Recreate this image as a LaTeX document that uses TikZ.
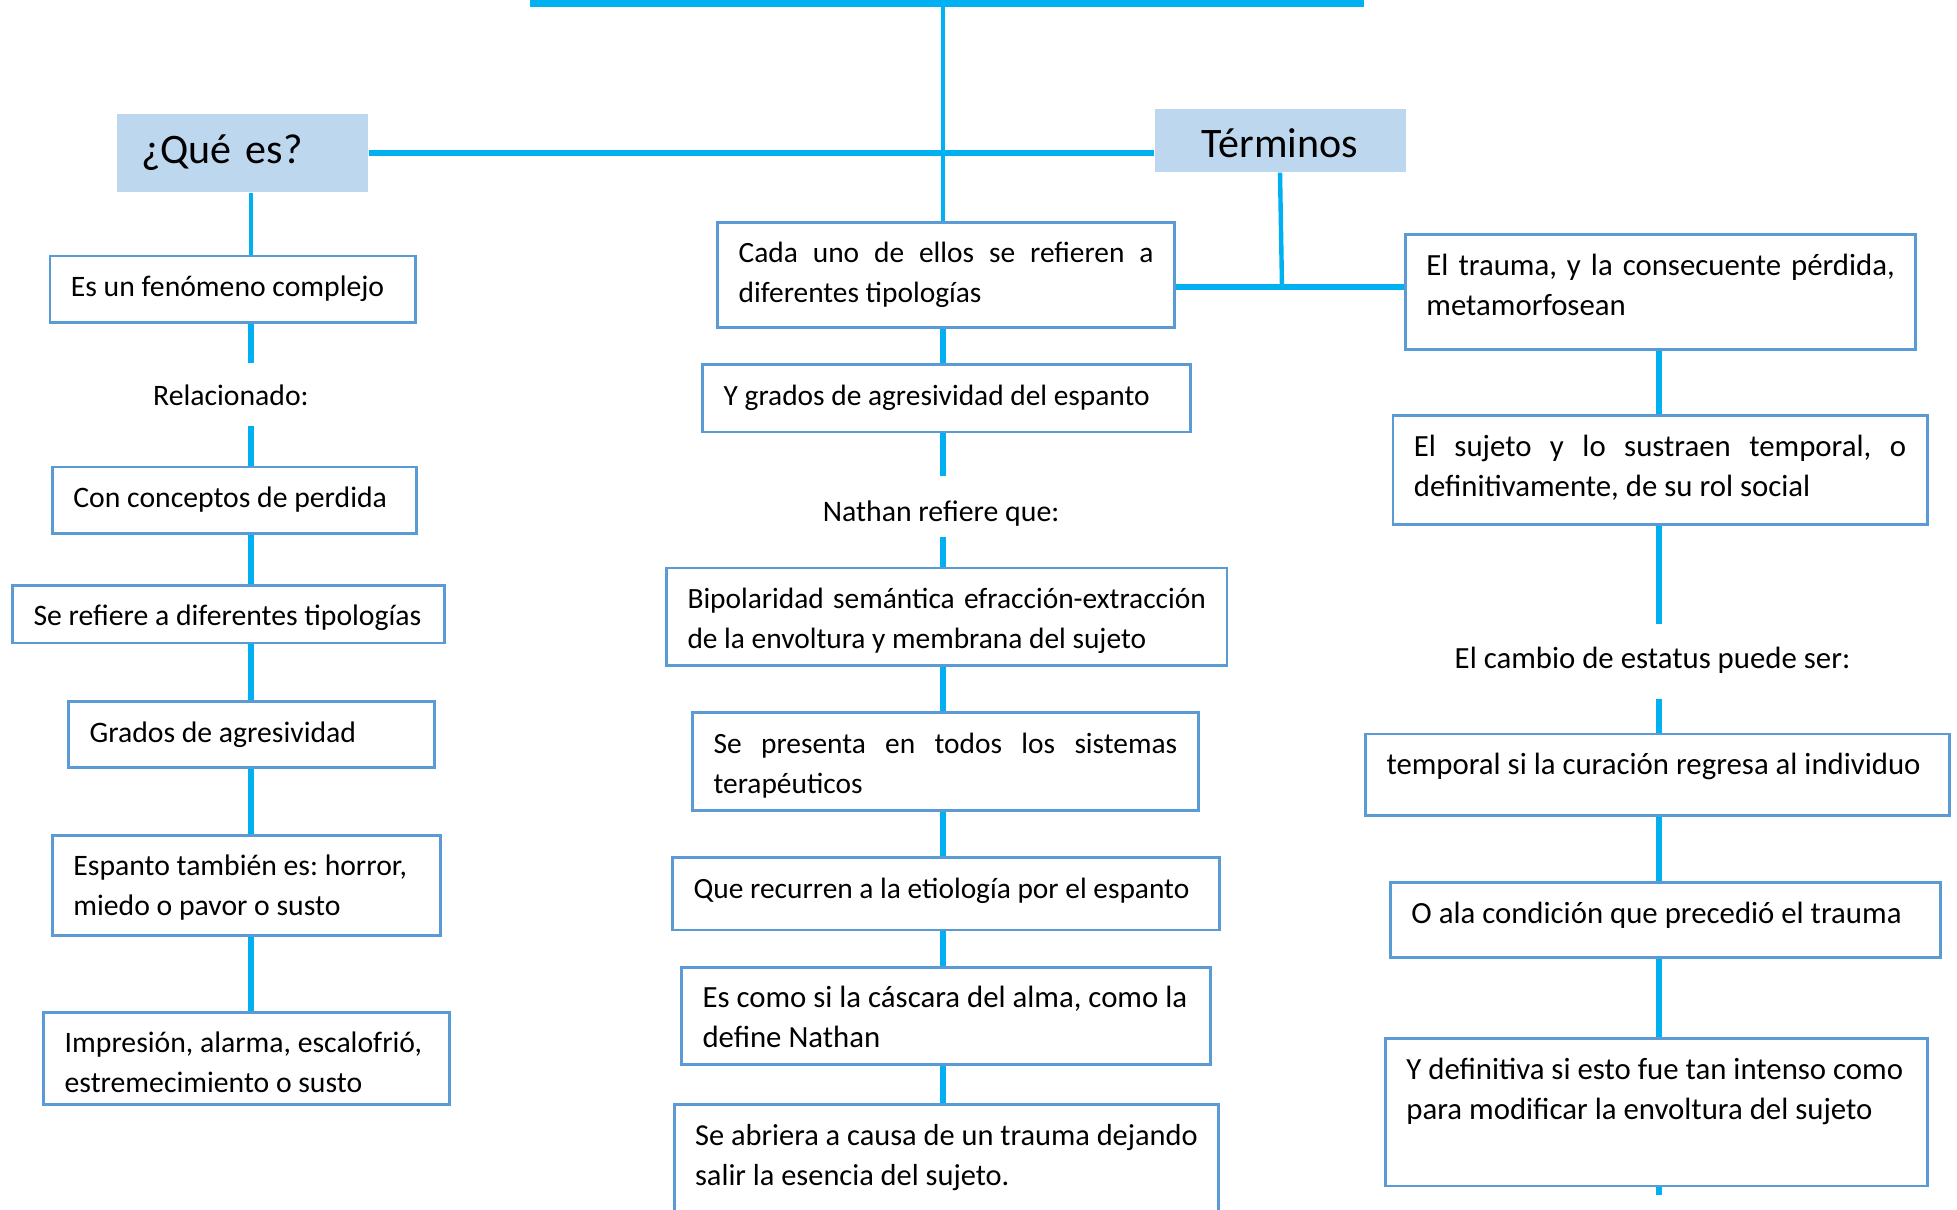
\documentclass[tikz,border=0pt]{standalone}
\usepackage{fontspec}
\setmainfont{Carlito}
\frenchspacing
\hyphenpenalty=10000
\exhyphenpenalty=10000
\definecolor{linkcyan}{RGB}{0,176,240}
\definecolor{boxblue}{RGB}{91,155,213}
\definecolor{headfill}{RGB}{189,215,238}

\begin{document}
\begin{tikzpicture}[x=0.5pt,y=-0.5pt,
  box/.style={draw=boxblue, line width=1.4pt, anchor=north, align=justify, inner xsep=10.5pt, inner ysep=0pt, text height=20.2pt, font=\fontsize{14.7}{20}\selectfont},
  lcol/.style={font=\fontsize{14.85}{20}\selectfont},
  rcol/.style={font=\fontsize{15.4}{20}\selectfont},
  head/.style={fill=headfill, inner ysep=0pt, font=\fontsize{21}{25}\selectfont},
  lbl/.style={inner sep=0pt, anchor=base, font=\fontsize{14.7}{20}\selectfont},
  link/.style={draw=linkcyan, line width=2.8pt},
  thin link/.style={draw=linkcyan, line width=2.2pt}]
\useasboundingbox (0,0) rectangle (1957,1209);
\clip (0,0) rectangle (1957,1209);

% columns
\coordinate (colL) at (251,0);
\coordinate (colM) at (943,0);
\coordinate (colR) at (1659,0);

% top bar
\node [fill=linkcyan, inner sep=0pt, minimum width=417pt, minimum height=5pt] (bar) at (947.3,2) {};

% heads
\node [head, align=left, inner xsep=11.9pt, text width=101.7pt, minimum height=39.3pt] (que) at (242.8,152.9) {¿Qué es?};
\node [head, minimum width=125.5pt, minimum height=31.8pt, text height=17.4pt, text depth=0pt] (term) at (1280,140.4) {Términos};
\coordinate (join) at (1282,287);

% left column
\node [box, lcol, text width=161.9pt, text depth=12.9pt] (fen) at (232.8,254.6) {Es un fenómeno complejo};
\node [lbl, lcol, text height=20.9pt, text depth=10.3pt] (rel) at (230.9,405) {Relacionado:};
\node [box, lcol, text width=161.2pt, text depth=12.9pt] (con) at (234.6,465.5) {Con conceptos de perdida};
\node [box, lcol, text width=194.9pt, text depth=8.5pt] (ref) at (228.4,584.1) {\mbox{Se refiere a diferentes tipologías}};
\node [box, lcol, text width=161.9pt, text depth=12.9pt] (gra) at (251.5,700.2) {Grados de agresividad};
\node [box, lcol, text width=173.1pt, text depth=29.8pt] (esp) at (246.5,833.7) {Espanto también es: horror,\\ miedo o pavor o susto};
\node [box, lcol, text width=181.8pt, text depth=26pt] (imp) at (246.5,1011) {Impresión, alarma, escalofrió,\\ estremecimiento o susto};

% middle column
\node [box, text width=207.4pt, text depth=32.3pt] (cada) at (946.1,220.9) {Cada uno de ellos se refieren a diferentes tipologías};
\node [box, text width=223pt, text depth=13.5pt] (ygr) at (946.7,363.2) {Y grados de agresividad del espanto};
\node [lbl, font=\fontsize{14.9}{20}\selectfont, text height=22.15pt, text depth=7.8pt] (nat) at (941.1,521.1) {Nathan refiere que:};
\node [box, text width=259.2pt, text depth=28.5pt] (bip) at (946.7,566.6) {Bipolaridad semántica efracción-extracción de la envoltura y membrana del sujeto};
\node [box, text width=231.8pt, text depth=28.5pt] (pre) at (945.4,711.4) {Se presenta en todos los sistemas terapéuticos};
\node [box, text width=252.4pt, text depth=16pt] (rec) at (946.1,856.2) {\mbox{Que recurren a la etiología por el espanto}};
\node [box, rcol, text width=243.6pt, text depth=28.5pt] (cas) at (946.1,966) {\mbox{Es como si la cáscara del alma, como la}\\ define Nathan};
\node [box, font=\fontsize{15.2}{20}\selectfont, text width=251pt, text depth=60pt] (abr) at (946.1,1103.3) {\mbox{Se abriera a causa de un trauma dejando}\\ salir la esencia del sujeto.};

% right column
\node [box, rcol, text width=234.2pt, text depth=37.2pt] (tra) at (1660.6,233.4) {El trauma, y la consecuente pérdida, metamorfosean};
\node [box, rcol, text width=246.1pt, text depth=34.1pt] (suj) at (1660,414.4) {El sujeto y lo sustraen temporal, o definitivamente, de su rol social};
\node [lbl, rcol, text height=22.15pt, text depth=15.35pt] (cam) at (1652.5,668.3) {El cambio de estatus puede ser:};
\node [box, rcol, text width=271pt, text depth=20.4pt] (tem) at (1657.5,732.6) {\mbox{temporal si la curación regresa al individuo}};
\node [box, rcol, text width=254.2pt, text depth=17.3pt] (ala) at (1665.6,881.2) {\mbox{O ala condición que precedió el trauma}};
\node [box, rcol, text width=249.9pt, text depth=53.5pt] (def) at (1656.3,1037.2) {\mbox{Y definitiva si esto fue tan intenso como}\\ para modificar la envoltura del sujeto};
\coordinate (stub) at (1659,1195);

% connectors
\draw [thin link] (bar.south -| colM) -- (cada.north -| colM);
\draw [link] (que.east) -- (term.west |- que.east);
\draw [thin link] (que.south -| colL) -- (fen.north -| colL);
\draw [thin link] (term.south) -- (join);
\draw [link] (cada.east |- join) -- (tra.west |- join);
\foreach \a/\b in {fen/rel, rel/con, con/ref, ref/gra, gra/esp, esp/imp}
  \draw [link] (\a.south -| colL) -- (\b.north -| colL);
\foreach \a/\b in {cada/ygr, ygr/nat, nat/bip, bip/pre, pre/rec, rec/cas, cas/abr}
  \draw [link] (\a.south -| colM) -- (\b.north -| colM);
\foreach \a/\b in {tra/suj, suj/cam, cam/tem, tem/ala, ala/def}
  \draw [link] (\a.south -| colR) -- (\b.north -| colR);
\draw [link] (def.south -| colR) -- (stub);

\end{tikzpicture}
\end{document}
